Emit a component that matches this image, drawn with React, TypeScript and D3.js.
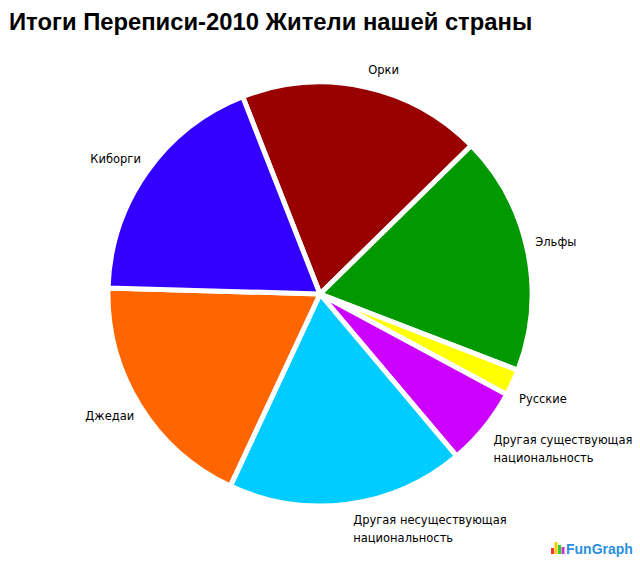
import React from "react";
import * as d3 from "d3";

const categories = [
  "Орки",
  "Эльфы",
  "Русские",
  "Другая существующая национальность",
  "Другая несуществующая национальность",
  "Джедаи",
  "Киборги",
];
const labelLines = [
  ["Орки"],
  ["Эльфы"],
  ["Русские"],
  ["Другая существующая", "национальность"],
  ["Другая несуществующая", "национальность"],
  ["Джедаи"],
  ["Киборги"],
];
const values = [18.6, 18.2, 2.0, 6.0, 18.1, 18.5, 18.6];
const colors = ["#990000", "#009900", "#ffff00", "#cc00ff", "#00ccff", "#ff6600", "#3300ff"];

// label layout nudges (dx, dy) relative to the radial anchor
const labelNudge: [number, number][] = [
  [0, 1],
  [-10, -5],
  [-10, 9],
  [-5, 10],
  [3, 7],
  [2, 1],
  [1, -3],
];

const W = 640;
const H = 565;
const cx = 320;
const cy = 294;
const R = 212;
const startDeg = -21.4;

export default function App() {
  const pie = d3
    .pie<number>()
    .sort(null)
    .startAngle((startDeg * Math.PI) / 180)
    .endAngle((startDeg * Math.PI) / 180 + 2 * Math.PI)
    .value((d) => d);
  const arcs = pie(values);
  const arc = d3.arc<d3.PieArcDatum<number>>().innerRadius(0).outerRadius(R);
  const L = 230;

  return (
    <svg width={W} height={H} style={{ position: "absolute", left: 0, top: 0, background: "#fff" }}>
      <text x={9} y={30} fontFamily="'Liberation Sans', Arial, sans-serif" fontWeight="bold" fontSize={23.8} fill="#000">
        Итоги Переписи-2010 Жители нашей страны
      </text>
      <g transform={`translate(${cx},${cy})`}>
        {arcs.map((a, i) => (
          <path key={categories[i]} d={arc(a) || ""} fill={colors[i]} stroke="#fff" strokeWidth={5} strokeLinejoin="round" />
        ))}
        {arcs.map((a, i) => {
          const mid = (a.startAngle + a.endAngle) / 2;
          const right = Math.sin(mid) >= 0;
          const x = L * Math.sin(mid) + (right ? 0 : 8) + labelNudge[i][0];
          const y = -L * Math.cos(mid) + labelNudge[i][1];
          const lines = labelLines[i];
          const lh = 18;
          const y0 = y - ((lines.length - 1) * lh) / 2 + 4;
          return (
            <text
              key={"l" + i}
              x={x}
              y={y0}
              textAnchor={right ? "start" : "end"}
              fontFamily="'DejaVu Sans', Verdana, sans-serif"
              fontSize={11.5}
              fill="#000"
            >
              {lines.map((ln, j) => (
                <tspan key={j} x={x} dy={j === 0 ? 0 : lh}>
                  {ln}
                </tspan>
              ))}
            </text>
          );
        })}
      </g>
      <g transform="translate(551,542)">
        <rect x={0} y={6} width={3} height={6} fill="#ff3333" />
        <rect x={3.5} y={0} width={3} height={12} fill="#ffcc00" />
        <rect x={7} y={3} width={3} height={9} fill="#33cc33" />
        <rect x={10.5} y={5} width={3} height={7} fill="#cc33cc" />
        <text x={15} y={12} fontFamily="'Liberation Sans', Arial, sans-serif" fontWeight="bold" fontSize={14} fill="#2b8fe0">
          FunGraph
        </text>
      </g>
    </svg>
  );
}
